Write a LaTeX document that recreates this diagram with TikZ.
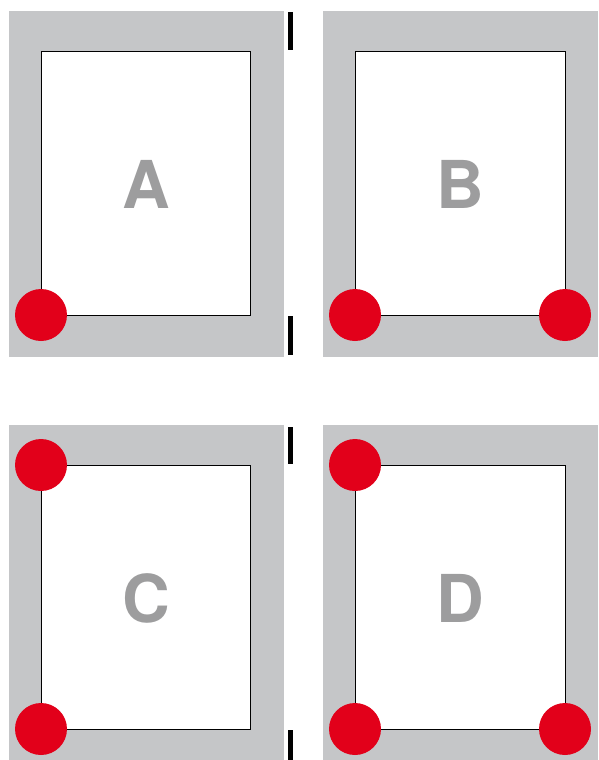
\documentclass[tikz,border=0pt]{standalone}
\usepackage{fontspec}
\setmainfont{TeX Gyre Heros}
\definecolor{panelgray}{HTML}{C5C6C8}
\definecolor{dotred}{HTML}{E2001A}
\definecolor{lettergray}{HTML}{9D9D9E}
\tikzset{
  panel/.style={fill=panelgray, draw=none},
  inner/.style={fill=white, draw=black, line width=0.9pt},
  dot/.style={circle, fill=dotred, draw=none, minimum size=52pt, inner sep=0pt},
  letter/.style={font=\fontsize{66}{66}\selectfont\bfseries, text=lettergray, inner sep=0pt},
  tick/.style={fill=black, draw=none}
}
\begin{document}
\begin{tikzpicture}[x=1pt,y=-1pt]
\useasboundingbox (0,0) rectangle (598,760);
% panel A
\fill[panel] (9,11) rectangle (284,357);
\draw[inner] (41,51) rectangle (250,315);
\node[letter] (la) at (146,184) {A};
\node[dot] (a1) at (41,315) {};
% panel B
\fill[panel] (323,11) rectangle (598,357);
\draw[inner] (355,51) rectangle (565,315);
\node[letter] (lb) at (460,184) {B};
\node[dot] (b1) at (355,315) {};
\node[dot] (b2) at (565,315) {};
% panel C
\fill[panel] (9,425) rectangle (284,760);
\draw[inner] (41,465) rectangle (250,729);
\node[letter] (lc) at (146,598) {C};
\node[dot] (c1) at (41,465) {};
\node[dot] (c2) at (41,729) {};
% panel D
\fill[panel] (323,425) rectangle (598,760);
\draw[inner] (355,465) rectangle (565,729);
\node[letter] (ld) at (460,598) {D};
\node[dot] (d1) at (355,465) {};
\node[dot] (d2) at (355,729) {};
\node[dot] (d3) at (565,729) {};
% ticks
\fill[tick] (288,12) rectangle (293,50);
\fill[tick] (288,316) rectangle (293,355);
\fill[tick] (288,427) rectangle (293,464);
\fill[tick] (288,730) rectangle (293,760);
\end{tikzpicture}
\end{document}
